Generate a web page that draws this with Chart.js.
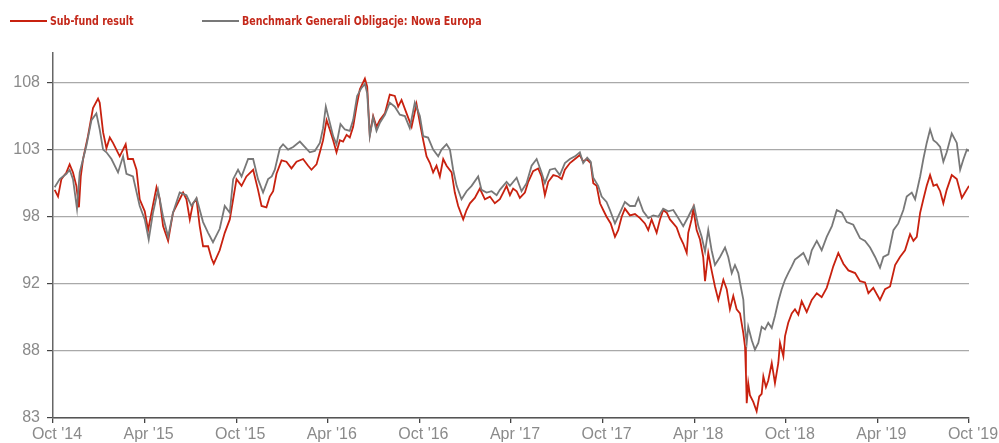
<!DOCTYPE html>
<html><head><meta charset="utf-8">
<script src="https://cdn.jsdelivr.net/npm/chart.js@4"></script>
<style>html,body{margin:0;padding:0;background:#fff}#wrap{width:999px;height:443px;position:relative}</style>
</head><body><div id="wrap"><canvas id="c" width="999" height="443"></canvas></div>
<script>
// ---- data (months since Oct 2014) ----
const seriesNames = ["Sub-fund result", "Benchmark Generali Obligacje: Nowa Europa"];

const fundMonths = [0.11,0.33,0.55,0.88,1.09,1.31,1.53,1.70,1.82,1.97,2.29,2.62,2.95,3.06,3.28,3.50,3.72,3.93,4.15,4.37,4.76,4.91,5.24,5.47,5.68,6.01,6.23,6.45,6.78,6.99,7.21,7.54,7.86,8.30,8.52,8.74,8.96,9.17,9.40,9.61,9.83,10.16,10.38,10.53,10.92,11.25,11.58,11.80,12.02,12.35,12.67,13.11,13.43,13.66,13.98,14.20,14.42,14.64,14.97,15.29,15.62,15.95,16.38,16.71,16.93,17.26,17.48,17.69,17.92,18.13,18.35,18.57,18.79,19.00,19.23,19.44,19.66,19.88,20.10,20.43,20.58,20.75,20.97,21.19,21.41,21.74,22.06,22.39,22.61,22.83,23.16,23.49,23.81,24.03,24.25,24.47,24.69,24.90,25.12,25.34,25.56,25.78,26.11,26.32,26.54,26.87,27.09,27.31,27.63,27.96,28.29,28.62,28.94,29.27,29.49,29.71,29.93,30.14,30.37,30.58,30.91,31.13,31.45,31.78,32.00,32.22,32.44,32.77,33.09,33.32,33.53,33.86,34.19,34.51,34.73,34.95,35.22,35.39,35.61,35.83,36.04,36.26,36.53,36.81,37.02,37.25,37.46,37.79,38.12,38.45,38.77,38.99,39.21,39.54,39.76,39.97,40.20,40.41,40.63,40.85,41.07,41.28,41.51,41.61,41.83,41.94,42.16,42.38,42.59,42.71,42.92,43.14,43.36,43.58,43.69,43.91,44.13,44.34,44.56,44.78,45.00,45.22,45.33,45.39,45.44,45.54,45.65,45.87,46.09,46.26,46.42,46.53,46.70,46.85,47.08,47.29,47.51,47.62,47.84,47.95,48.16,48.39,48.60,48.82,49.04,49.37,49.70,50.03,50.35,50.68,50.90,51.11,51.44,51.77,52.10,52.54,52.86,53.19,53.41,53.73,54.17,54.50,54.83,55.16,55.48,55.81,56.14,56.36,56.58,56.80,57.01,57.23,57.45,57.67,57.89,58.11,58.32,58.54,58.87,59.20,59.53,59.74,60.00];
const fundValues = [100.0,99.5,100.8,101.3,101.9,101.3,100.3,98.7,101.0,102.3,104.0,106.1,106.8,106.5,104.3,103.1,103.9,103.5,103.0,102.5,103.4,102.3,102.3,101.5,99.3,98.4,97.0,98.3,100.2,99.3,97.3,96.2,98.3,99.3,99.8,99.3,97.8,99.0,99.3,97.3,95.8,95.8,94.9,94.5,95.5,96.8,97.8,99.3,100.8,100.3,101.0,101.5,100.0,98.8,98.7,99.5,99.9,101.2,102.2,102.1,101.6,102.1,102.3,101.8,101.5,101.9,102.8,103.7,105.2,104.5,103.7,102.8,103.7,103.6,104.1,103.9,104.7,106.2,107.5,108.3,107.7,104.1,105.5,104.7,105.2,105.7,107.1,107.0,106.2,106.7,105.7,104.7,106.4,105.0,103.7,102.5,102.0,101.3,101.8,101.0,102.3,101.8,101.3,99.8,98.8,97.8,98.5,99.0,99.4,100.1,99.3,99.5,99.0,99.3,99.8,100.3,99.6,100.1,99.9,99.4,99.8,100.6,101.4,101.6,101.0,99.6,100.6,101.1,101.0,100.8,101.5,102.0,102.3,102.6,102.1,102.3,102.0,100.5,100.3,99.0,98.5,98.0,97.5,96.5,97.0,98.0,98.6,98.1,98.2,97.9,97.5,97.0,97.8,96.8,97.8,98.5,98.3,97.8,97.5,97.2,96.5,96.0,95.3,96.8,97.8,98.6,97.0,96.3,95.0,93.2,95.3,94.0,92.8,91.8,92.3,93.3,92.6,91.1,92.1,91.1,90.8,89.3,88.3,86.3,84.1,85.6,84.7,84.2,83.5,84.6,84.8,86.1,85.3,85.8,87.1,85.6,87.1,88.6,87.6,89.1,90.1,90.8,91.1,90.7,91.7,90.9,91.8,92.3,92.0,92.7,93.5,94.3,95.3,94.5,94.0,93.8,93.2,93.1,92.3,92.7,91.8,92.6,92.8,94.4,95.0,95.5,96.7,96.2,96.5,98.3,99.3,100.3,101.1,100.3,100.4,99.9,99.0,100.0,101.1,100.8,99.4,99.8,100.3];

const benchMonths = [0.11,0.44,0.88,1.09,1.31,1.57,1.75,2.19,2.52,2.84,3.06,3.28,3.50,3.83,4.26,4.59,4.81,5.24,5.68,6.01,6.27,6.55,6.88,7.21,7.54,7.86,8.30,8.74,9.07,9.40,9.83,10.16,10.48,10.92,11.25,11.58,11.80,12.12,12.35,12.78,13.11,13.43,13.76,14.09,14.33,14.53,14.86,15.07,15.40,15.73,16.17,16.49,16.82,17.15,17.48,17.69,17.87,18.09,18.35,18.57,18.83,19.12,19.44,19.66,19.92,20.21,20.43,20.58,20.75,20.97,21.19,21.41,21.74,22.06,22.39,22.72,23.05,23.37,23.70,24.03,24.25,24.57,24.90,25.23,25.45,25.78,26.00,26.21,26.44,26.76,27.09,27.42,27.85,28.07,28.40,28.73,29.06,29.27,29.71,29.93,30.37,30.69,31.02,31.35,31.68,32.00,32.22,32.55,32.88,33.20,33.53,33.86,34.19,34.51,34.73,34.99,35.22,35.39,35.71,35.94,36.26,36.48,36.81,37.14,37.46,37.79,38.12,38.34,38.66,38.99,39.32,39.65,39.97,40.30,40.63,40.96,41.28,41.61,41.83,41.99,42.27,42.49,42.71,42.92,43.14,43.36,43.69,44.02,44.23,44.46,44.67,44.89,45.00,45.22,45.33,45.44,45.54,45.77,45.98,46.20,46.42,46.64,46.85,47.08,47.29,47.51,47.73,47.95,48.16,48.39,48.60,48.82,49.15,49.48,49.70,50.03,50.35,50.68,51.02,51.34,51.67,51.99,52.42,52.86,53.19,53.52,53.85,54.17,54.39,54.72,55.05,55.37,55.70,55.92,56.25,56.47,56.80,57.01,57.23,57.45,57.67,57.89,58.11,58.32,58.54,58.87,59.20,59.42,59.64,59.86,60.00];
const benchValues = [100.2,100.8,101.2,101.5,100.8,98.6,101.3,103.3,105.2,105.7,104.5,103.0,102.8,102.3,101.3,102.5,101.2,101.0,98.8,97.8,96.3,98.3,100.0,98.0,96.5,98.3,99.8,99.6,98.8,99.4,97.6,96.8,96.1,97.1,98.8,98.3,100.8,101.5,101.0,102.3,102.3,100.8,99.8,100.8,101.0,101.5,103.1,103.4,103.0,103.2,103.6,103.2,102.8,102.9,103.5,104.6,106.2,105.2,104.0,103.4,104.9,104.5,104.4,105.2,107.0,107.6,107.9,107.2,104.0,105.4,104.4,105.0,105.6,106.5,106.2,105.6,105.5,104.6,106.5,105.5,104.0,103.9,103.0,102.5,103.0,103.4,103.0,101.5,100.3,99.3,99.9,100.3,101.0,100.0,99.8,99.9,99.6,100.0,100.6,100.3,100.9,99.9,100.5,101.8,102.3,101.3,100.5,101.5,101.6,101.1,102.0,102.3,102.5,102.8,102.0,102.4,102.1,100.9,100.3,99.5,99.1,98.5,97.5,98.3,99.1,98.8,98.8,99.4,98.4,97.9,98.1,98.0,98.6,98.4,98.5,97.9,97.3,98.0,98.5,98.8,97.3,96.5,95.4,97.0,95.5,94.4,95.0,95.7,95.0,93.8,94.4,93.8,93.1,91.8,89.6,88.6,89.8,88.8,88.1,88.6,89.8,89.6,90.1,89.7,90.6,91.7,92.6,93.3,93.8,94.3,94.8,95.0,95.3,94.5,95.5,96.2,95.5,96.5,97.3,98.5,98.3,97.6,97.4,96.4,96.2,95.7,95.0,94.2,95.0,95.2,97.0,97.5,98.5,99.5,99.8,99.3,101.0,102.3,103.5,104.5,103.7,103.5,103.2,102.1,102.8,104.2,103.5,101.5,102.3,103.0,102.9];

const xTickMonths = [0, 6, 12, 18, 24, 30, 36, 42, 48, 54, 60];
const xTickLabels = ["Oct '14", "Apr '15", "Oct '15", "Apr '16", "Oct '16", "Apr '17", "Oct '17", "Apr '18", "Oct '18", "Apr '19", "Oct '19"];
const yTickValues = [83, 88, 93, 98, 103, 108];
const yTickLabels = ["83", "88", "92", "98", "103", "108"];

// ---- styling ----
const RED = '#c8210f';
const GRAY = '#787878';
const TICK_FONT = { family: "'Liberation Sans', Arial, Helvetica, sans-serif", size: 16 };

const toPoints = (xs, ys) => xs.map((x, i) => ({ x: x, y: ys[i] }));

const topLegend = {
  id: 'topLegend',
  afterDraw(chart) {
    const ctx = chart.ctx;
    const starts = [10, 202];
    const lineLen = 37, gap = 3, y = 21, squeeze = 0.845;
    ctx.save();
    ctx.font = "bold 12.5px 'Liberation Sans Narrow', 'DejaVu Sans Condensed', 'Arial Narrow', sans-serif";
    ctx.textBaseline = 'middle';
    chart.data.datasets.forEach((ds, i) => {
      const x0 = starts[i];
      ctx.strokeStyle = ds.borderColor;
      ctx.lineWidth = 2;
      ctx.beginPath();
      ctx.moveTo(x0, y);
      ctx.lineTo(x0 + lineLen, y);
      ctx.stroke();
      ctx.save();
      ctx.translate(x0 + lineLen + gap, y + 0.5);
      ctx.scale(squeeze, 1);
      ctx.fillStyle = '#c4281a';
      ctx.fillText(ds.label, 0, 0);
      ctx.restore();
    });
    ctx.restore();
  }
};

new Chart(document.getElementById('c'), {
  type: 'line',
  data: {
    datasets: [
      { label: seriesNames[0], data: toPoints(fundMonths, fundValues), borderColor: RED, backgroundColor: RED, borderWidth: 1.8, pointRadius: 0, tension: 0, order: 1 },
      { label: seriesNames[1], data: toPoints(benchMonths, benchValues), borderColor: GRAY, backgroundColor: GRAY, borderWidth: 1.8, pointRadius: 0, tension: 0, order: 0 }
    ]
  },
  options: {
    responsive: false,
    animation: false,
    devicePixelRatio: 1,
    layout: { padding: { top: 53, right: 30, left: 0, bottom: 0 } },
    plugins: { legend: { display: false }, tooltip: { enabled: false } },
    scales: {
      x: {
        type: 'linear', min: 0, max: 60,
        afterBuildTicks: s => { s.ticks = xTickMonths.map(v => ({ value: v })); },
        afterFit: s => { s.height = 25; },
        ticks: { callback: (v, i) => xTickLabels[i], color: '#8a8a8a', font: TICK_FONT, padding: 2, labelOffset: 4, maxRotation: 0, autoSkip: false },
        grid: { drawOnChartArea: false, drawTicks: true, tickLength: 5, tickColor: '#444', lineWidth: 1.3 },
        border: { display: true, color: '#555', width: 1.5 }
      },
      y: {
        type: 'linear', min: 83, max: 110.2,
        afterBuildTicks: s => { s.ticks = yTickValues.map(v => ({ value: v })); },
        afterFit: s => { s.width = 53; },
        ticks: { callback: (v, i) => yTickLabels[i], color: '#8a8a8a', font: TICK_FONT, padding: 7 },
        grid: { color: '#a9a9a9', lineWidth: 1.2, drawTicks: true, tickLength: 6, tickColor: '#444' },
        border: { display: true, color: '#666', width: 1.5 }
      }
    }
  },
  plugins: [topLegend]
});
</script>
</body></html>
